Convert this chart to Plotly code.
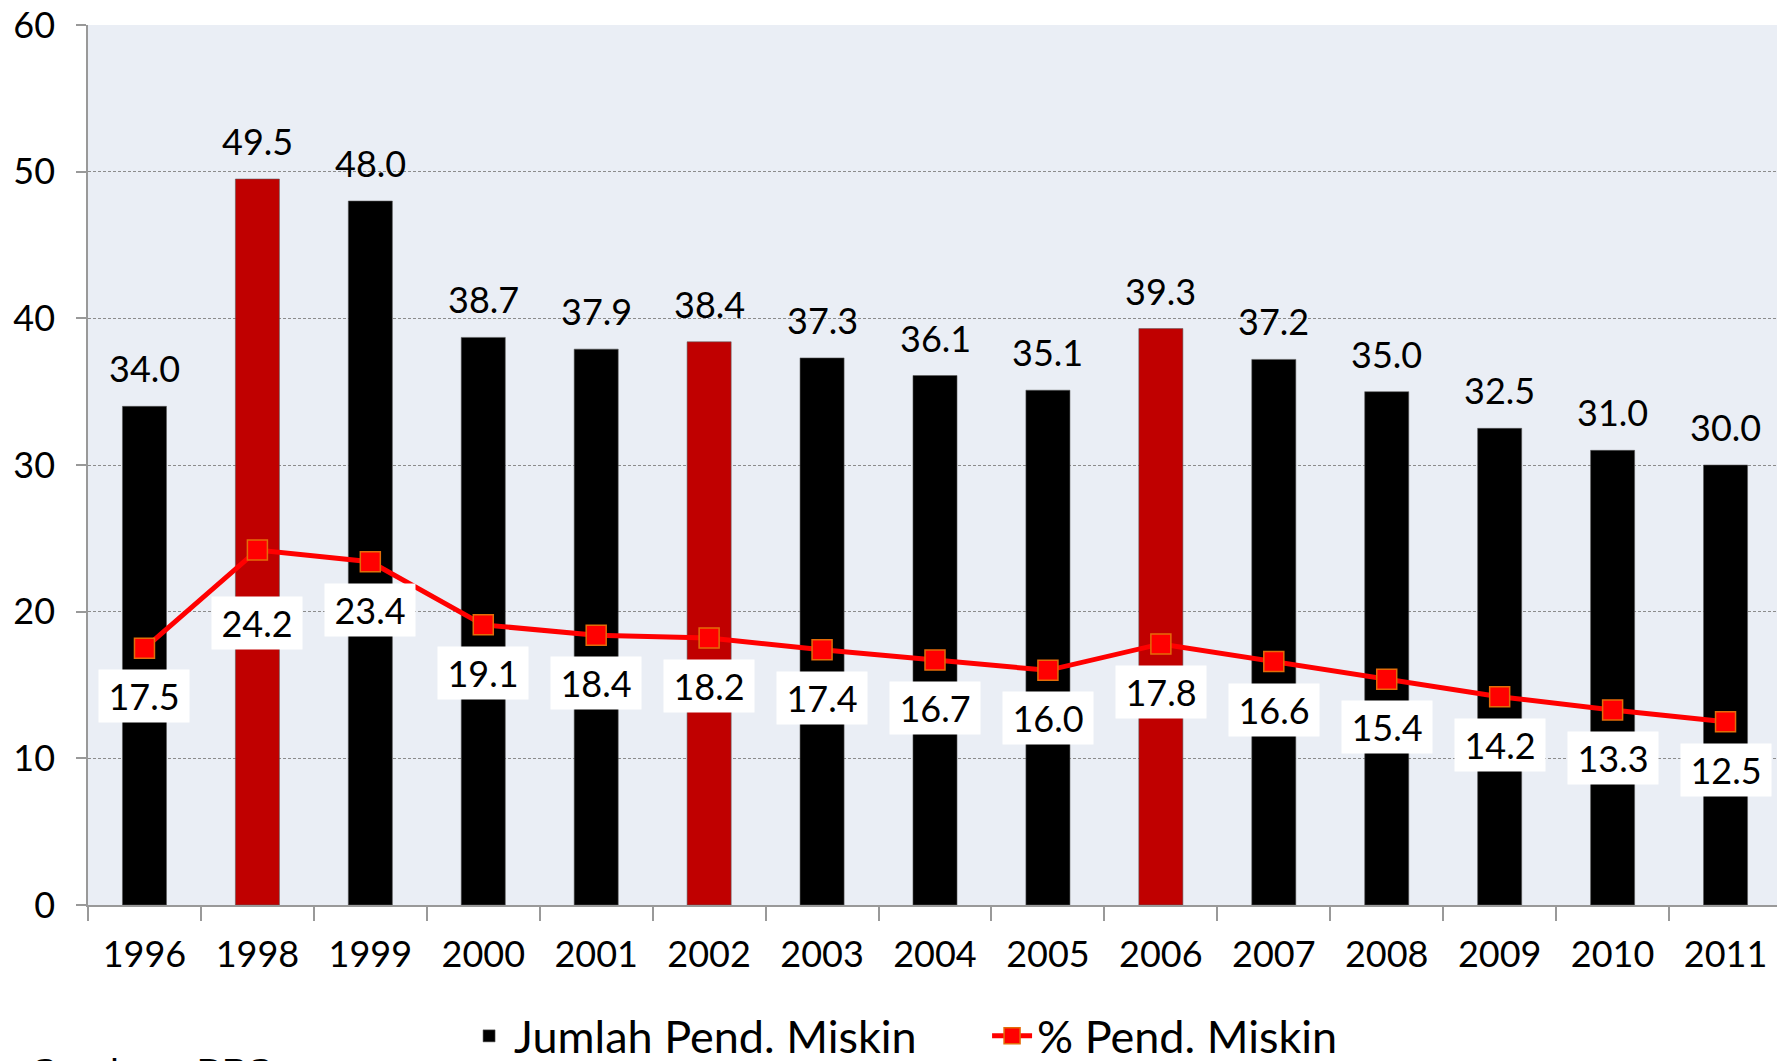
import plotly.graph_objects as go

years = ["1996", "1998", "1999", "2000", "2001", "2002", "2003", "2004",
         "2005", "2006", "2007", "2008", "2009", "2010", "2011"]
jumlah = [34.0, 49.5, 48.0, 38.7, 37.9, 38.4, 37.3, 36.1, 35.1, 39.3, 37.2, 35.0, 32.5, 31.0, 30.0]
persen = [17.5, 24.2, 23.4, 19.1, 18.4, 18.2, 17.4, 16.7, 16.0, 17.8, 16.6, 15.4, 14.2, 13.3, 12.5]
highlight_years = ["1998", "2002", "2006"]

FONT = "Lato"
bar_colors = ["#C00000" if y in highlight_years else "#000000" for y in years]

fig = go.Figure()
fig.add_trace(go.Bar(
    x=years, y=jumlah, name="Jumlah Pend. Miskin",
    marker=dict(color=bar_colors, line=dict(color="rgba(90,90,90,0.7)", width=0.8)),
    width=0.39,
))
fig.add_trace(go.Scatter(
    x=years, y=persen, name="% Pend. Miskin", mode="lines+markers",
    line=dict(color="#FF0000", width=5),
    marker=dict(symbol="square", size=20, color="#FF0000",
                line=dict(color="#E36C09", width=1.5)),
))

# annotations on a category axis use the category's serial index
annotations = []
for i, v in enumerate(jumlah):
    annotations.append(dict(x=i, y=v, xref="x", yref="y", text=f"{v:.1f}",
                            showarrow=False, yanchor="middle", yshift=38,
                            font=dict(family=FONT, size=36, color="#000000")))
label_shift = {"1998": -73}
for i, (y, v) in enumerate(zip(years, persen)):
    annotations.append(dict(x=i, y=v, xref="x", yref="y", text=f"{v:.1f}",
                            showarrow=False, yanchor="middle",
                            yshift=label_shift.get(y, -48),
                            bgcolor="#FFFFFF", borderpad=5, width=80, height=42,
                            font=dict(family=FONT, size=36, color="#000000")))
annotations.append(dict(x=0, y=0, xref="paper", yref="paper", text="Sumber : BPS",
                        showarrow=False, xanchor="left", yanchor="top",
                        xshift=-58, yshift=-145,
                        font=dict(family="Liberation Sans", size=38, color="#000000")))

# the page body adds an 8px offset, so the figure is 8px smaller than the window
fig.update_layout(
    width=1777, height=1053,
    margin=dict(l=80, r=3, t=17, b=156, autoexpand=False),
    paper_bgcolor="#FFFFFF", plot_bgcolor="#EAEEF5",
    font=dict(family=FONT, size=36, color="#000000"),
    showlegend=True,
    legend=dict(orientation="h", x=0.222, xanchor="left", y=-0.149, yanchor="middle",
                font=dict(family=FONT, size=45), bgcolor="rgba(0,0,0,0)",
                traceorder="normal", itemwidth=40, entrywidth=468, entrywidthmode="pixels"),
    annotations=annotations,
)
fig.update_xaxes(type="category", categoryorder="array", categoryarray=years,
                 range=[-0.5, len(years) - 0.5], automargin=False,
                 showline=True, linecolor="#999999", linewidth=1.5,
                 ticks="outside", tickson="boundaries", ticklen=14, tickcolor="#999999",
                 tickwidth=1.5, showgrid=False, ticklabelstandoff=17, tickangle=0,
                 tickfont=dict(family=FONT, size=36))
fig.update_yaxes(range=[0, 60], dtick=10, showline=True, linecolor="#999999", linewidth=1.5,
                 automargin=False, ticklabeloverflow="allow",
                 ticks="outside", ticklen=10, tickcolor="#999999", tickwidth=1.5,
                 showgrid=True, gridcolor="#8C8C8C", griddash="3px,2px", gridwidth=1,
                 zeroline=False, ticklabelstandoff=14,
                 tickfont=dict(family=FONT, size=36))

fig.write_html("out.html")
